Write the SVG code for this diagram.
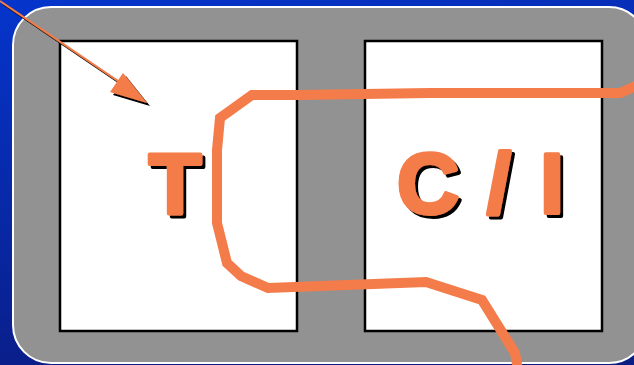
<svg xmlns="http://www.w3.org/2000/svg" width="634" height="365" viewBox="0 0 634 365">
<defs>
<linearGradient id="bg" x1="0" y1="0" x2="0.3" y2="1">
<stop offset="0" stop-color="#0535cc"/>
<stop offset="1" stop-color="#0a1d85"/>
</linearGradient>
<filter id="shadow" x="-20%" y="-20%" width="140%" height="140%">
<feOffset in="SourceAlpha" dx="3" dy="3" result="o"/>
<feFlood flood-color="#000"/>
<feComposite in2="o" operator="in" result="s"/>
<feMerge><feMergeNode in="s"/><feMergeNode in="SourceGraphic"/></feMerge>
</filter>
<style>
.box{fill:#ffffff;stroke:#000;stroke-width:2.5}
.lbl{font-family:"Liberation Sans",Arial,sans-serif;font-weight:bold;font-size:86px;text-anchor:middle;stroke-linejoin:round;stroke-width:4;fill:#f47c4a;stroke:#f47c4a;filter:url(#shadow)}
.wire{fill:none;stroke:#f47c4a;stroke-width:10;stroke-linejoin:miter}
</style>
</defs>
<rect width="634" height="365" fill="url(#bg)"/>
<rect x="13" y="7" width="634" height="356" rx="38" ry="38" fill="#929292" stroke="#ffffff" stroke-width="2"/>
<g id="node-T">
<rect class="box" x="60" y="41" width="237" height="290"/>
<text class="lbl" x="175" y="213">T</text>
</g>
<g id="node-CI">
<rect class="box" x="365" y="41" width="237" height="290"/>
<text class="lbl" y="213"><tspan x="428">C</tspan><tspan x="499"> / </tspan><tspan x="552">I</tspan></text>
</g>
<g id="connectors" filter="url(#shadow)">
<line x1="0" y1="1" x2="124" y2="85" stroke="#f47c4a" stroke-width="2"/>
<polygon points="147,103 110,92 123,73" fill="#f47c4a"/>
</g>
<g id="wire">
<polyline class="wire" points="640,84 620,93 430,93 297,95 252,95 220,118 217,150 217,223 227,263 241,276 268,288 426,282 482,300 515,353 518,370"/>
</g>
</svg>
